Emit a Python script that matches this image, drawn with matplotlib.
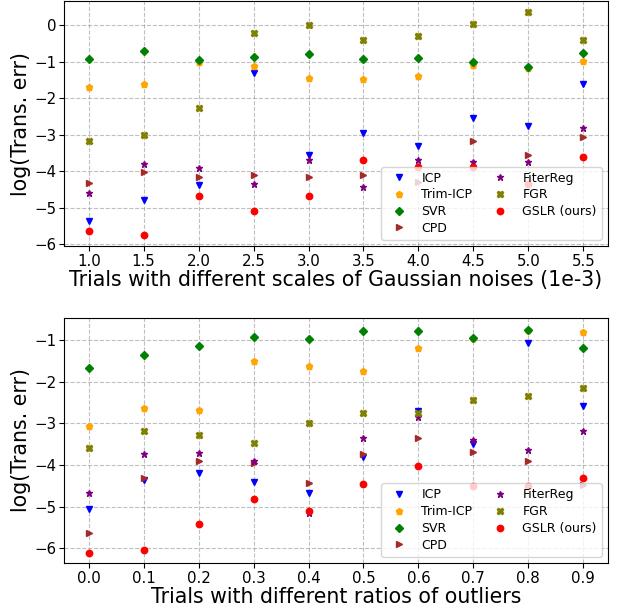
import matplotlib
matplotlib.use("Agg")
import matplotlib.pyplot as plt

methods = ["ICP", "Trim-ICP", "SVR", "CPD", "FiterReg", "FGR", "GSLR (ours)"]
markers = ["v", "p", "D", ">", "*", "X", "o"]
colors = ["blue", "orange", "green", "brown", "purple", "olive", "red"]

# top: gaussian noise scales
noise_x = [1.0, 1.5, 2.0, 2.5, 3.0, 3.5, 4.0, 4.5, 5.0, 5.5]
noise_icp = [-5.37, -4.78, -4.37, -1.31, -3.56, -2.96, -3.31, -2.54, -2.75, -1.61]
noise_trim = [-1.70, -1.60, -1.01, -1.13, -1.44, -1.47, -1.39, -1.10, -1.17, -0.97]
noise_svr = [-0.93, -0.71, -0.95, -0.87, -0.79, -0.94, -0.89, -1.00, -1.15, -0.76]
noise_cpd = [-4.33, -4.03, -4.15, -4.10, -4.17, -4.10, -4.30, -3.17, -3.56, -3.06]
noise_fiter = [-4.61, -3.79, -3.90, -4.35, -3.70, -4.44, -3.69, -3.74, -3.76, -2.83]
noise_fgr = [-3.18, -3.02, -2.27, -0.22, -0.01, -0.41, -0.30, 0.02, 0.37, -0.40]
noise_gslr = [-5.63, -5.74, -4.68, -5.10, -4.69, -3.69, -3.88, -3.88, -4.36, -3.62]

# bottom: outlier ratios
outlier_x = [0.0, 0.1, 0.2, 0.3, 0.4, 0.5, 0.6, 0.7, 0.8, 0.9]
outlier_icp = [-5.06, -4.36, -4.19, -4.40, -4.66, -3.81, -2.70, -3.50, -1.08, -2.58]
outlier_trim = [-3.06, -2.63, -2.67, -1.50, -1.62, -1.74, -1.20, -0.95, -0.77, -0.81]
outlier_svr = [-1.66, -1.35, -1.14, -0.92, -0.98, -0.79, -0.78, -0.94, -0.75, -1.18]
outlier_cpd = [-5.62, -4.32, -3.90, -3.94, -4.44, -3.74, -3.34, -3.68, -3.90, -4.49]
outlier_fiter = [-4.66, -3.73, -3.72, -3.90, -5.16, -3.35, -2.85, -3.41, -3.65, -3.19]
outlier_fgr = [-3.58, -3.18, -3.27, -3.48, -2.98, -2.75, -2.75, -2.43, -2.34, -2.14]
outlier_gslr = [-6.10, -6.04, -5.42, -4.81, -5.10, -4.46, -4.02, -4.50, -4.50, -4.31]

noise_series = [noise_icp, noise_trim, noise_svr, noise_cpd, noise_fiter, noise_fgr, noise_gslr]
outlier_series = [outlier_icp, outlier_trim, outlier_svr, outlier_cpd, outlier_fiter, outlier_fgr, outlier_gslr]

fig = plt.figure(figsize=(6.17, 6.06), dpi=100)
ax1 = fig.add_axes([0.1037, 0.594, 0.8817, 0.4043])
ax2 = fig.add_axes([0.1037, 0.071, 0.8817, 0.4043])

panels = [
    (ax1, noise_x, noise_series, "Trials with different scales of Gaussian noises (1e-3)", (-6.05, 0.66)),
    (ax2, outlier_x, outlier_series, "Trials with different ratios of outliers", (-6.35, -0.47)),
]

for ax, xs, series, xlabel, ylim in panels:
    for name, m, c, ys in zip(methods, markers, colors, series):
        ms = 4.0 if m == "D" else 4.6
        ax.plot(xs, ys, linestyle="None", marker=m, color=c, markersize=ms, label=name)
    ax.set_xticks(xs)
    ax.set_ylim(*ylim)
    ax.grid(True, linestyle="--", color="gray", alpha=0.5, linewidth=0.8)
    ax.set_xlabel(xlabel, fontsize=14.8, labelpad=1)
    ax.set_ylabel("log(Trans. err)", fontsize=14.8, labelpad=2)
    ax.tick_params(labelsize=10.8, pad=2)
    ax.legend(loc="lower right", ncol=2, fontsize=9, labelspacing=0.3, columnspacing=1.2)

plt.savefig("out.png", dpi=100)
plt.close()
